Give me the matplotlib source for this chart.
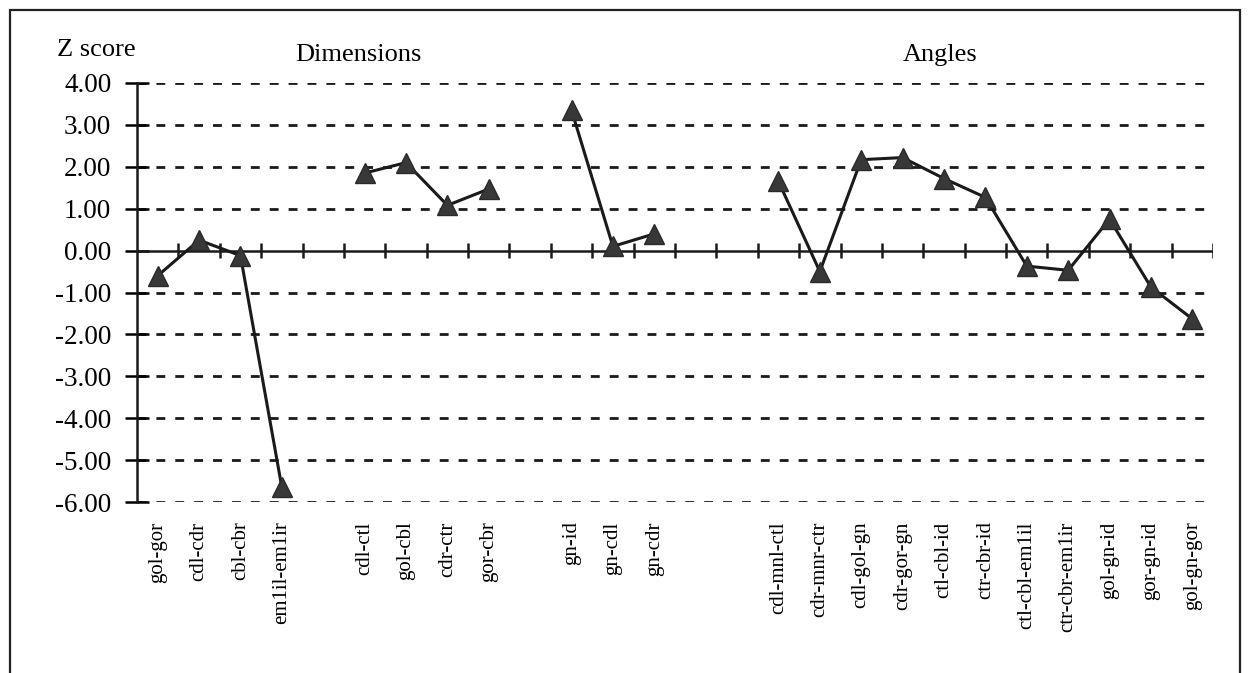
import numpy as np
import matplotlib
matplotlib.use('Agg')
import matplotlib.pyplot as plt
from matplotlib.patches import Rectangle

plt.rcParams['font.family'] = ['Liberation Serif', 'DejaVu Serif']

# category labels, '' marks an empty slot between groups
labels = ['gol-gor', 'cdl-cdr', 'cbl-cbr', 'em1il-em1ir', '',
          'cdl-ctl', 'gol-cbl', 'cdr-ctr', 'gor-cbr', '',
          'gn-id', 'gn-cdl', 'gn-cdr', '', '',
          'cdl-mnl-ctl', 'cdr-mnr-ctr', 'cdl-gol-gn', 'cdr-gor-gn',
          'ctl-cbl-id', 'ctr-cbr-id', 'ctl-cbl-em1il', 'ctr-cbr-em1ir',
          'gol-gn-id', 'gor-gn-id', 'gol-gn-gor']

# z scores per group (connected lines)
dims_a = [-0.60, 0.25, -0.12, -5.65]
dims_b = [1.85, 2.10, 1.08, 1.47]
dims_c = [3.35, 0.10, 0.40]
angles = [1.65, -0.50, 2.17, 2.22, 1.72, 1.27, -0.37, -0.47, 0.75, -0.87, -1.63]

groups = [dims_a, dims_b, dims_c, angles]
starts = [0, 5, 10, 15]

fig = plt.figure(figsize=(12.5, 6.73), dpi=100)
fig.patches.append(Rectangle((10/1250, -0.1), 1230/1250, 1.1 - 10/673,
                             transform=fig.transFigure, fill=False,
                             edgecolor='#222222', linewidth=1.6))

ax = fig.add_axes([137/1250, 1 - 502/673, (1213 - 137)/1250, (502 - 83)/673])
ax.set_xlim(0, len(labels))
ax.set_ylim(-6, 4)

# dashed grid lines, solid zero line with crossing ticks
for yv in range(-6, 5):
    if yv == 0:
        continue
    ax.axhline(yv, xmax=0.995, color='#1a1a1a', linewidth=2.0, dashes=(3.2, 3.6), zorder=1)
ax.axhline(0, color='#1a1a1a', linewidth=1.8, zorder=2)
bounds = np.arange(0, len(labels) + 1)
ax.vlines(bounds[1:], -0.18, 0.18, color='#1a1a1a', linewidth=1.8, zorder=2)

for vals, s in zip(groups, starts):
    xs = np.arange(s, s + len(vals)) + 0.5
    ax.plot(xs, vals, color='#1a1a1a', linewidth=2.2, marker='^',
            markersize=14, markerfacecolor='#383838',
            markeredgecolor='#2a2a2a', zorder=3)

for side in ['top', 'right', 'bottom']:
    ax.spines[side].set_visible(False)
ax.spines['left'].set_linewidth(1.8)
ax.spines['left'].set_color('#1a1a1a')

ax.set_yticks(range(-6, 5))
ax.set_yticklabels(['%.2f' % v for v in range(-6, 5)], fontsize=19.5)
ax.tick_params(axis='y', direction='inout', length=17, width=1.8, pad=10)

ax.set_xticks(np.arange(len(labels)) + 0.5)
ax.set_xticklabels(labels, rotation=90, fontsize=15)
ax.tick_params(axis='x', length=0, pad=14)

fig.text(96/1250, 1 - 50/673, 'Z score', fontsize=19, ha='center', va='center')
fig.text(358/1250, 1 - 55/673, 'Dimensions', fontsize=19, ha='center', va='center')
fig.text(940/1250, 1 - 55/673, 'Angles', fontsize=19, ha='center', va='center')

fig.savefig('out.png', dpi=100)
